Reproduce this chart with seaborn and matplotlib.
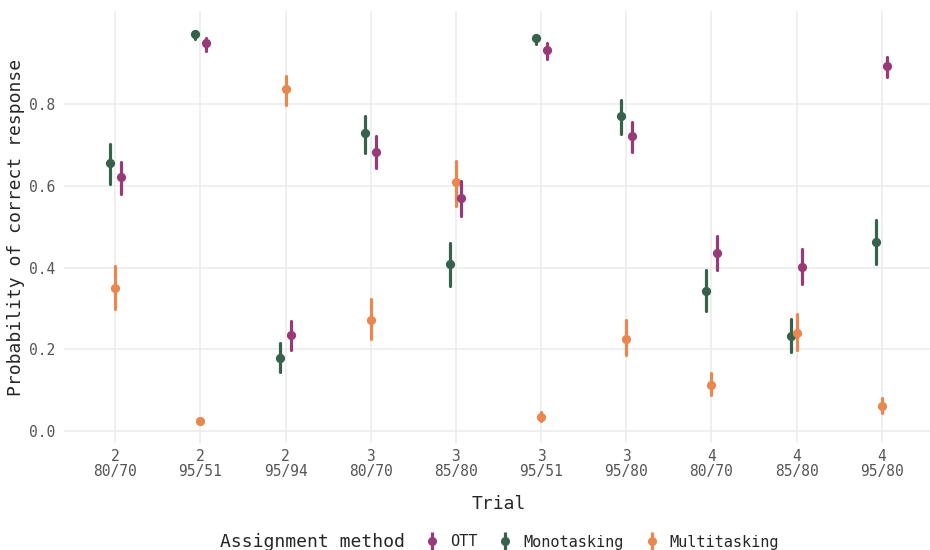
import pandas as pd
import seaborn as sns
import matplotlib.pyplot as plt
from matplotlib.lines import Line2D
from matplotlib.legend_handler import HandlerTuple

# Trials (set size / reliability pair)
trials = ['2\n80/70', '2\n95/51', '2\n95/94', '3\n80/70', '3\n85/80',
          '3\n95/51', '3\n95/80', '4\n80/70', '4\n85/80', '4\n95/80']

# point estimates and interval bounds
mono_mid = [0.656, 0.972, 0.178, 0.730, 0.408, 0.962, 0.772, 0.342, 0.232, 0.463]
mono_lo = [0.604, 0.960, 0.143, 0.682, 0.355, 0.948, 0.728, 0.293, 0.192, 0.409]
mono_hi = [0.704, 0.978, 0.216, 0.772, 0.461, 0.970, 0.811, 0.394, 0.275, 0.517]

multi_mid = [0.349, 0.024, 0.838, 0.271, 0.610, 0.034, 0.226, 0.112, 0.240, 0.061]
multi_lo = [0.298, 0.019, 0.798, 0.225, 0.551, 0.025, 0.186, 0.087, 0.198, 0.044]
multi_hi = [0.404, 0.031, 0.869, 0.323, 0.662, 0.047, 0.271, 0.141, 0.286, 0.081]

ott_mid = [0.623, 0.950, 0.234, 0.683, 0.570, 0.933, 0.722, 0.436, 0.402, 0.895]
ott_lo = [0.580, 0.931, 0.199, 0.643, 0.527, 0.912, 0.684, 0.394, 0.360, 0.868]
ott_hi = [0.660, 0.964, 0.269, 0.722, 0.612, 0.950, 0.758, 0.477, 0.445, 0.917]

methods = ['Monotasking', 'Multitasking', 'OTT']
legend_order = ['OTT', 'Monotasking', 'Multitasking']
palette = {'OTT': '#993A78', 'Monotasking': '#36614B', 'Multitasking': '#E8874F'}

series = {
    'Monotasking': (mono_lo, mono_mid, mono_hi),
    'Multitasking': (multi_lo, multi_mid, multi_hi),
    'OTT': (ott_lo, ott_mid, ott_hi),
}

# long table: three rows (lo, mid, hi) per trial and method
rows = []
for method in methods:
    lo, mid, hi = series[method]
    for i, trial in enumerate(trials):
        for v in (lo[i], mid[i], hi[i]):
            rows.append({'trial': trial, 'method': method, 'p': v})
df = pd.DataFrame(rows)

sns.set_style('white')
plt.rcParams['font.family'] = ['DejaVu Sans Mono', 'DejaVu Sans']

fig = plt.figure(figsize=(9.3, 5.5), dpi=100)
ax = fig.add_axes([64 / 930, 107 / 550, 869 / 930, 432 / 550])

sns.pointplot(data=df, x='trial', y='p', hue='method', order=trials,
              hue_order=methods, palette=palette, estimator='median',
              errorbar=lambda v: (v.min(), v.max()), dodge=0.13,
              linestyles='none', markers='o', markersize=4.6,
              err_kws={'linewidth': 2.3}, legend=False, ax=ax)

ax.set_xlim(-0.6, 9.6)
ax.set_ylim(-0.03, 1.029)
ax.set_yticks([0.0, 0.2, 0.4, 0.6, 0.8])
ax.set_yticklabels(['0.0', '0.2', '0.4', '0.6', '0.8'])
ax.grid(True, color='#EBEBEB', linewidth=1.1)
ax.set_axisbelow(True)
for s in ax.spines.values():
    s.set_visible(False)
ax.tick_params(axis='both', length=0, labelsize=10.5, labelcolor='#555555')
ax.tick_params(axis='x', pad=4)
ax.tick_params(axis='y', pad=6)
for lab in ax.get_xticklabels():
    lab.set_linespacing(1.0)

ax.set_xlabel('Trial', fontsize=13, labelpad=12)
ax.set_ylabel('Probability of correct response', fontsize=13, labelpad=3)

# legend along the bottom, title on the left
handles = []
for m in legend_order:
    c = palette[m]
    handles.append((Line2D([], [], marker='|', ms=13, mew=2.3, color=c, ls=''),
                    Line2D([], [], marker='o', ms=5.5, color=c, ls='')))
fig.text(220 / 930, 1 - 542 / 550, 'Assignment method', fontsize=13,
         va='center', ha='left')
fig.legend(handles, legend_order, loc='center left',
           bbox_to_anchor=(426 / 930, 1 - 542 / 550), ncol=3, frameon=False,
           fontsize=11, handlelength=0.8, handletextpad=0.8, columnspacing=1.4,
           handler_map={tuple: HandlerTuple(ndivide=1, pad=0)},
           borderaxespad=0, borderpad=0)

fig.savefig('out.png', dpi=100)
